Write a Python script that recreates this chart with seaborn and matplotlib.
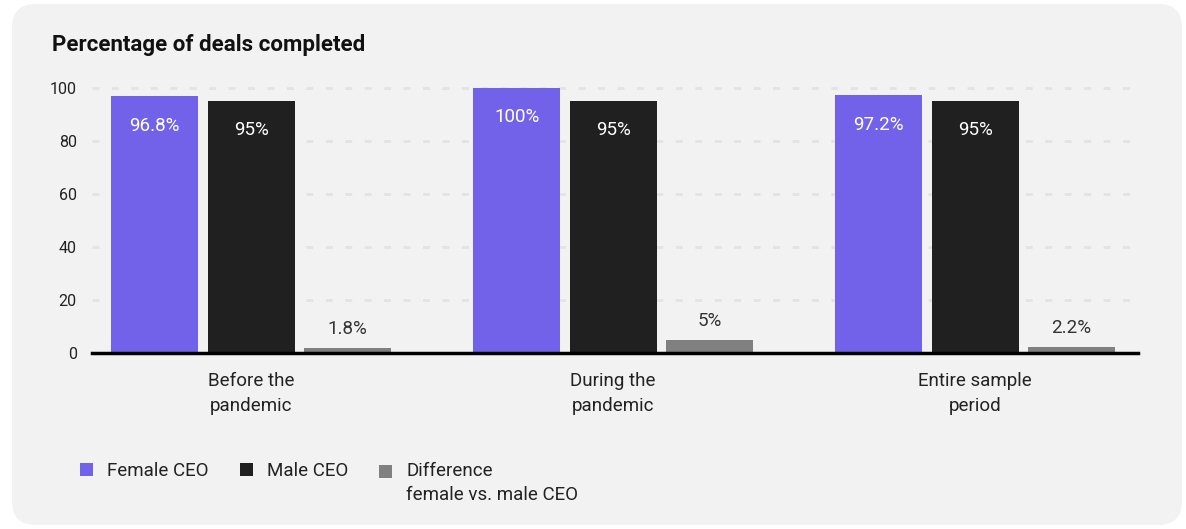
import matplotlib
matplotlib.use("Agg")
import matplotlib.pyplot as plt
from matplotlib.patches import FancyBboxPatch, Patch
from matplotlib.legend_handler import HandlerPatch
import seaborn as sns
import pandas as pd

categories = ["Before the\npandemic", "During the\npandemic", "Entire sample\nperiod"]
series = ["Female CEO", "Male CEO", "Difference\nfemale vs. male CEO"]
female = [96.8, 100, 97.2]
male = [95, 95, 95]
difference = [1.8, 5, 2.2]
labels_female = ["96.8%", "100%", "97.2%"]
labels_male = ["95%", "95%", "95%"]
labels_diff = ["1.8%", "5%", "2.2%"]
yticks = [0, 20, 40, 60, 80, 100]
colors = ["#7262EA", "#202020", "#808080"]

rows = []
for i, c in enumerate(categories):
    rows.append((c, series[0], female[i], labels_female[i]))
    rows.append((c, series[1], male[i], labels_male[i]))
    rows.append((c, series[2], difference[i], labels_diff[i]))
df = pd.DataFrame(rows, columns=["category", "series", "value", "label"])

sns.set_style("white")
plt.rcParams["font.family"] = ["Roboto", "DejaVu Sans"]

fig = plt.figure(figsize=(11.86, 5.29), dpi=100)
fig.patch.set_facecolor("white")
bg = FancyBboxPatch((12 / 1186, 4 / 529), (1186 - 16) / 1186, (525 - 4) / 529,
                    boxstyle="round,pad=0,rounding_size=0.02",
                    transform=fig.transFigure, facecolor="#F2F2F2", edgecolor="none",
                    mutation_aspect=1186 / 529, zorder=-10)
fig.patches.append(bg)

ax = fig.add_axes([92 / 1186, 1 - 353 / 529, (1138 - 92) / 1186, (353 - 88) / 529])
ax.set_facecolor("none")
ax.set_zorder(2)

sns.barplot(data=df, x="category", y="value", hue="series", palette=colors,
            width=0.8, gap=0.1, ax=ax, legend=False, saturation=1, errorbar=None,
            linewidth=0, edgecolor="none", zorder=3)

ax.set_ylim(0, 100)
ax.set_xlim(-0.44, 2.45)
ax.set_yticks(yticks)
ax.set_yticklabels([str(t) for t in yticks], fontsize=11.5, color="#222222")
ax.tick_params(axis="y", length=0, pad=11)
ax.tick_params(axis="x", length=0, pad=14, labelsize=13.5, labelcolor="#222222")
for t in ax.get_xticklabels():
    t.set_linespacing(1.45)
ax.set_xlabel("")
ax.set_ylabel("")
for s in ["top", "right", "left"]:
    ax.spines[s].set_visible(False)
ax.spines["bottom"].set_linewidth(2.5)
ax.spines["bottom"].set_color("black")
ax.spines["bottom"].set_zorder(5)
for t in yticks[1:]:
    ax.axhline(t, xmin=0, xmax=(1130 - 92) / (1138 - 92), color="#E3E3E3",
               lw=2, linestyle=(0, (2.5, 4.5)), zorder=1, clip_on=False)

for idx, cont in enumerate(ax.containers):
    sub = df[df["series"] == series[idx]]
    for bar, lab in zip(cont, sub["label"]):
        x = bar.get_x() + bar.get_width() / 2
        h = bar.get_height()
        if idx < 2:
            ax.annotate(lab, (x, h), xytext=(0, -21), textcoords="offset points",
                        ha="center", va="center", color="white", fontsize=13.5, zorder=6)
        else:
            ax.annotate(lab, (x, h), xytext=(0, 13.5), textcoords="offset points",
                        ha="center", va="center", color="#333333", fontsize=13.5, zorder=6)

fig.text(52 / 1186, 1 - 45 / 529, "Percentage of deals completed", fontsize=16,
         fontweight="bold", va="center", ha="left", color="#111111")


class ShiftedHandler(HandlerPatch):
    def __init__(self, shift=0.0, **kw):
        super().__init__(**kw)
        self.shift = shift

    def create_artists(self, legend, orig_handle, xdescent, ydescent, width, height,
                       fontsize, trans):
        return super().create_artists(legend, orig_handle, xdescent, ydescent - self.shift,
                                      width, height, fontsize, trans)


handles = [Patch(facecolor=c, edgecolor="none") for c in colors]
leg = fig.legend(handles, series, loc="upper left", bbox_to_anchor=(80 / 1186, 1 - 462 / 529),
                 ncol=3, frameon=False, fontsize=13.5, handlelength=0.7, handleheight=0.7,
                 handletextpad=0.75, columnspacing=1.65, labelcolor="#222222",
                 borderpad=0, borderaxespad=0,
                 handler_map={handles[2]: ShiftedHandler(shift=9)})
for t in leg.get_texts():
    t.set_linespacing(1.45)
leg._legend_handle_box.align = "top"

fig.savefig("out.png", dpi=100)
